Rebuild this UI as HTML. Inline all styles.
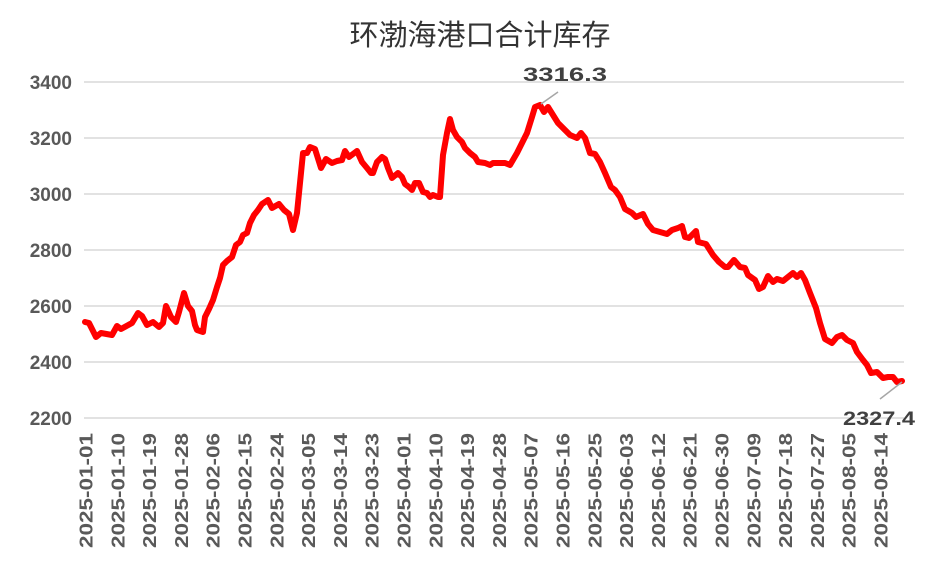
<!DOCTYPE html>
<html><head><meta charset="utf-8"><style>body{margin:0;background:#fff}svg{display:block}</style></head>
<body>
<svg width="928" height="580" viewBox="0 0 928 580" xmlns="http://www.w3.org/2000/svg">
<text x="480" y="45" text-anchor="middle" font-family="'Liberation Sans','Noto Sans CJK SC',sans-serif" font-size="29" fill="#333">环渤海港口合计库存</text>
<g stroke="#d9d9d9" stroke-width="1.5">
<line x1="84" y1="82" x2="904" y2="82"/><line x1="84" y1="138" x2="904" y2="138"/><line x1="84" y1="194" x2="904" y2="194"/><line x1="84" y1="250" x2="904" y2="250"/><line x1="84" y1="306" x2="904" y2="306"/><line x1="84" y1="362" x2="904" y2="362"/><line x1="84" y1="418" x2="904" y2="418"/>
</g>
<g font-family="'Liberation Sans',sans-serif" font-weight="bold" font-size="19" fill="#595959" text-anchor="end">
<text x="72" y="89">3400</text><text x="72" y="145">3200</text><text x="72" y="201">3000</text><text x="72" y="257">2800</text><text x="72" y="313">2600</text><text x="72" y="369">2400</text><text x="72" y="425">2200</text>
</g>
<g font-family="'Liberation Sans',sans-serif" font-weight="bold" font-size="18" fill="#595959" text-anchor="end">
<text transform="translate(92.5,433) rotate(-90)" textLength="115" lengthAdjust="spacingAndGlyphs">2025-01-01</text>
<text transform="translate(124.3,433) rotate(-90)" textLength="115" lengthAdjust="spacingAndGlyphs">2025-01-10</text>
<text transform="translate(156.1,433) rotate(-90)" textLength="115" lengthAdjust="spacingAndGlyphs">2025-01-19</text>
<text transform="translate(187.9,433) rotate(-90)" textLength="115" lengthAdjust="spacingAndGlyphs">2025-01-28</text>
<text transform="translate(219.7,433) rotate(-90)" textLength="115" lengthAdjust="spacingAndGlyphs">2025-02-06</text>
<text transform="translate(251.5,433) rotate(-90)" textLength="115" lengthAdjust="spacingAndGlyphs">2025-02-15</text>
<text transform="translate(283.3,433) rotate(-90)" textLength="115" lengthAdjust="spacingAndGlyphs">2025-02-24</text>
<text transform="translate(315.1,433) rotate(-90)" textLength="115" lengthAdjust="spacingAndGlyphs">2025-03-05</text>
<text transform="translate(346.9,433) rotate(-90)" textLength="115" lengthAdjust="spacingAndGlyphs">2025-03-14</text>
<text transform="translate(378.7,433) rotate(-90)" textLength="115" lengthAdjust="spacingAndGlyphs">2025-03-23</text>
<text transform="translate(410.5,433) rotate(-90)" textLength="115" lengthAdjust="spacingAndGlyphs">2025-04-01</text>
<text transform="translate(442.3,433) rotate(-90)" textLength="115" lengthAdjust="spacingAndGlyphs">2025-04-10</text>
<text transform="translate(474.1,433) rotate(-90)" textLength="115" lengthAdjust="spacingAndGlyphs">2025-04-19</text>
<text transform="translate(505.9,433) rotate(-90)" textLength="115" lengthAdjust="spacingAndGlyphs">2025-04-28</text>
<text transform="translate(537.7,433) rotate(-90)" textLength="115" lengthAdjust="spacingAndGlyphs">2025-05-07</text>
<text transform="translate(569.5,433) rotate(-90)" textLength="115" lengthAdjust="spacingAndGlyphs">2025-05-16</text>
<text transform="translate(601.3,433) rotate(-90)" textLength="115" lengthAdjust="spacingAndGlyphs">2025-05-25</text>
<text transform="translate(633.1,433) rotate(-90)" textLength="115" lengthAdjust="spacingAndGlyphs">2025-06-03</text>
<text transform="translate(664.9,433) rotate(-90)" textLength="115" lengthAdjust="spacingAndGlyphs">2025-06-12</text>
<text transform="translate(696.7,433) rotate(-90)" textLength="115" lengthAdjust="spacingAndGlyphs">2025-06-21</text>
<text transform="translate(728.5,433) rotate(-90)" textLength="115" lengthAdjust="spacingAndGlyphs">2025-06-30</text>
<text transform="translate(760.3,433) rotate(-90)" textLength="115" lengthAdjust="spacingAndGlyphs">2025-07-09</text>
<text transform="translate(792.1,433) rotate(-90)" textLength="115" lengthAdjust="spacingAndGlyphs">2025-07-18</text>
<text transform="translate(823.9,433) rotate(-90)" textLength="115" lengthAdjust="spacingAndGlyphs">2025-07-27</text>
<text transform="translate(855.7,433) rotate(-90)" textLength="115" lengthAdjust="spacingAndGlyphs">2025-08-05</text>
<text transform="translate(887.5,433) rotate(-90)" textLength="115" lengthAdjust="spacingAndGlyphs">2025-08-14</text>
</g>
<polyline fill="none" stroke="#ff0000" stroke-width="6" stroke-linejoin="round" stroke-linecap="round" points="85,322 89,323 96,337 101,333 112,335 117,326 121,329 132,323 138,313 142,316 147,325 153,322 159,327 163,323 166,306 171,317 176,322 179,312 184,293 188,306 192,311 195,325 197,330 203,332 205,317 209,309 213,300 217,287 220,278 223,265 227,261 232,257 236,245 240,242 243,235 247,233 250,223 254,215 258,210 262,204 268,200 272,208 279,204 284,210 289,214 293,230 297,213 303,153 307,153 310,147 315,149 321,168 326,159 332,163 337,161 342,160 345,151 349,157 357,151 362,162 367,168 371,173 373,173 377,162 382,157 385,159 388,168 392,178 398,173 402,177 405,184 409,187 412,190 415,183 419,183 423,192 427,193 430,197 433,195 438,197 440,197 443,155 447,133 450,119 453,130 457,137 462,142 465,148 470,153 475,157 478,162 485,163 490,165 493,163 505,163 510,165 517,153 522,143 527,133 532,117 535,107 540,105 544,112 548,107 553,115 558,123 565,130 570,135 577,138 581,133 585,138 590,153 595,154 600,162 605,173 611,187 615,190 620,197 625,209 632,213 636,217 643,214 648,224 653,230 660,232 667,234 672,230 678,228 682,226 685,237 689,238 696,231 698,242 706,244 713,255 719,262 725,267 728,267 734,260 740,267 745,268 748,275 755,280 759,289 763,287 768,276 773,282 777,279 783,281 788,277 793,273 797,277 801,273 805,280 810,293 816,308 820,323 825,339 832,343 837,337 842,335 847,340 853,343 857,352 863,360 867,365 871,373 877,372 883,378 888,377 893,377 897,382 902,381"/>
<line x1="558" y1="92" x2="541" y2="104" stroke="#a6a6a6" stroke-width="1.5"/>
<line x1="880" y1="399" x2="902" y2="382" stroke="#a6a6a6" stroke-width="1.5"/>
<g font-family="'Liberation Sans',sans-serif" font-weight="bold" font-size="19" fill="#404040">
<text x="523" y="81" textLength="84" lengthAdjust="spacingAndGlyphs">3316.3</text>
<text x="843" y="425" textLength="72" lengthAdjust="spacingAndGlyphs">2327.4</text>
</g>
</svg>
</body></html>
